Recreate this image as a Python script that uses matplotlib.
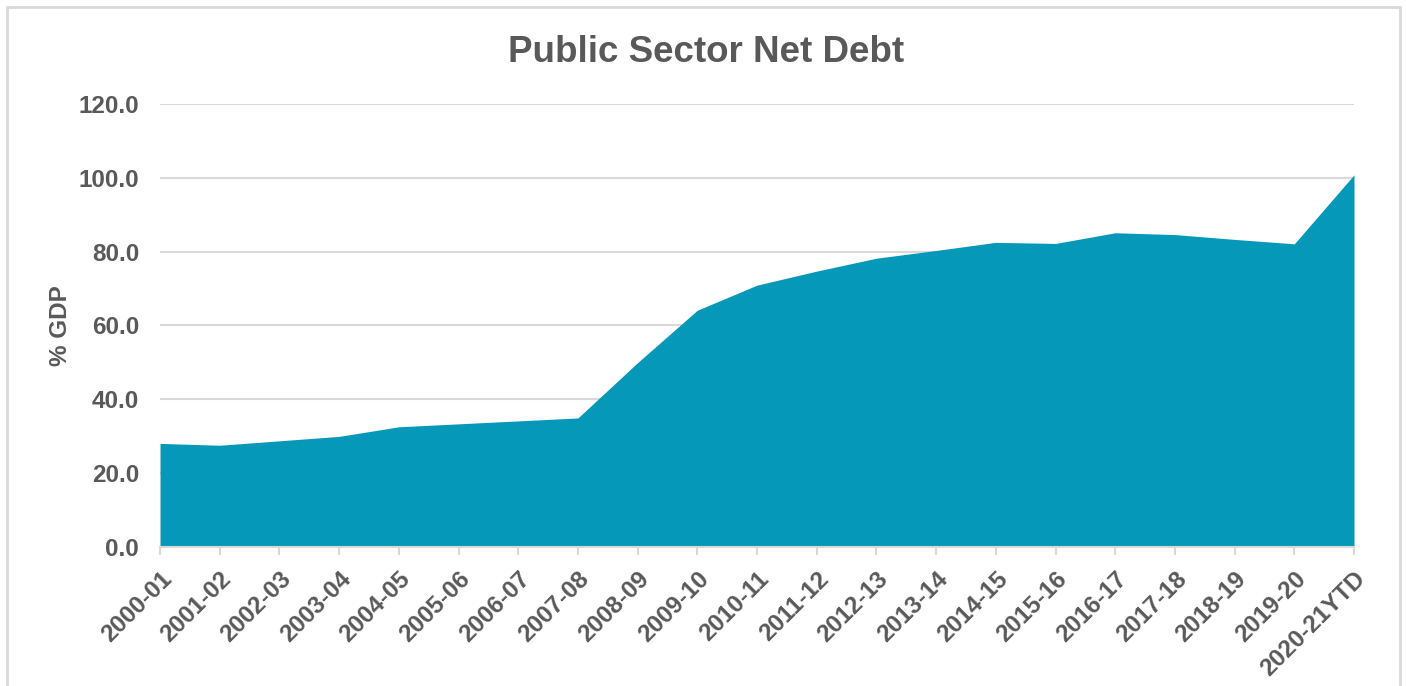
import matplotlib
matplotlib.use('Agg')
import matplotlib.pyplot as plt
from matplotlib.patches import Rectangle
import numpy as np

## data
years = ['2000-01', '2001-02', '2002-03', '2003-04', '2004-05', '2005-06',
         '2006-07', '2007-08', '2008-09', '2009-10', '2010-11', '2011-12',
         '2012-13', '2013-14', '2014-15', '2015-16', '2016-17', '2017-18',
         '2018-19', '2019-20', '2020-21YTD']
debt = [28.0, 27.5, 28.7, 29.9, 32.5, 33.3, 34.1, 34.9, 49.9, 64.1, 70.9,
        74.7, 78.2, 80.3, 82.5, 82.2, 85.1, 84.6, 83.3, 82.1, 100.8]
yticks = [0, 20, 40, 60, 80, 100, 120]

txt = '#595959'
grid = '#d9d9d9'
fill = '#0698b9'

plt.rcParams['font.family'] = ['Liberation Sans', 'DejaVu Sans']
plt.rcParams['font.weight'] = 'bold'

fig = plt.figure(figsize=(14.06, 6.86), dpi=100)
ax = fig.add_axes([160/1406, 1 - 546.7/686, (1354 - 160)/1406, (546.7 - 104)/686])

x = np.arange(len(years))
ax.fill_between(x, debt, 0, color=fill, linewidth=0, zorder=3)

ax.set_xlim(0, len(years) - 1)
ax.set_ylim(0, 120)
ax.set_yticks(yticks)
ax.set_yticklabels(['%.1f' % v for v in yticks], fontsize=17.5, fontweight='bold', color=txt)
ax.set_xticks(x)
ax.set_xticklabels(years, rotation=45, ha='right', rotation_mode='anchor',
                   fontsize=17.5, fontweight='bold', color=txt)

ax.yaxis.grid(True, color=grid, linewidth=1.5, zorder=0)
ax.tick_params(axis='y', length=0, pad=15)
ax.tick_params(axis='x', length=6, width=1.5, color=grid, pad=9)
for s in ['top', 'right', 'left']:
    ax.spines[s].set_visible(False)
ax.spines['bottom'].set_color(grid)
ax.spines['bottom'].set_linewidth(1.5)
ax.spines['bottom'].set_zorder(4)

ax.set_ylabel('% GDP', fontsize=17.5, fontweight='bold', color=txt, labelpad=5)
fig.text(0.502, 1 - 52/686, 'Public Sector Net Debt', ha='center', va='center',
         fontsize=26.5, fontweight='bold', color=txt)

# light frame round the chart
fig.patches.append(Rectangle((7/1406, -0.05), 1393/1406, 1.05 - 7.5/686,
                             transform=fig.transFigure, fill=False,
                             edgecolor=grid, linewidth=2))

plt.savefig('out.png', dpi=100)
